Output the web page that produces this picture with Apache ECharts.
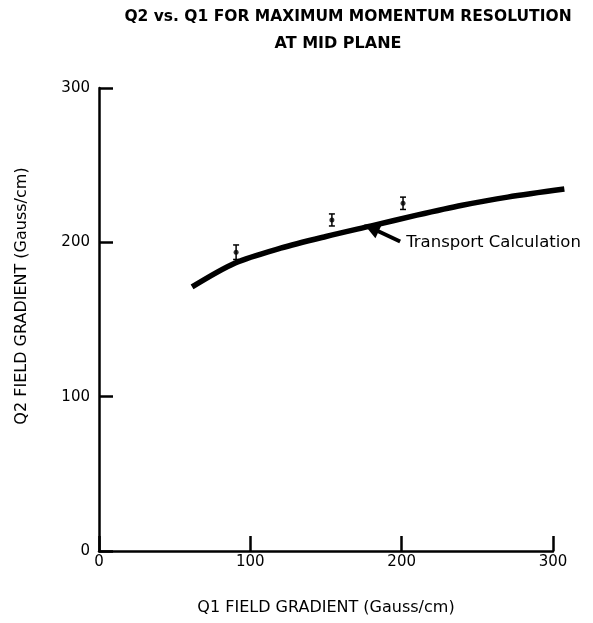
<!DOCTYPE html>
<html>
<head>
<meta charset="utf-8">
<script src="https://cdn.jsdelivr.net/npm/echarts@6/dist/echarts.min.js"></script>
<style>
html,body{margin:0;padding:0;background:#fff;}
#chart{width:593px;height:623px;}
</style>
</head>
<body>
<div id="chart"></div>
<script>
// Transport calculation curve (Q1, Q2)
var curveX = [61.5, 90, 120, 150, 180, 210, 240, 270, 307.5];
var curveY = [171.1, 186.6, 196.2, 203.8, 210.7, 217.6, 224.0, 229.3, 234.5];
// Measured points with error
var pointX = [90.6, 153.9, 200.9];
var pointY = [193.6, 214.5, 225.3];
var pointErr = [4.7, 3.9, 4.0];
// Axis ticks
var xTicks = [0, 100, 200, 300];
var yTicks = [0, 100, 200, 300];
// Annotation
var annotText = 'Transport Calculation';
var arrowFrom = [199, 200.5];
var arrowTo = [180, 209.3];

var FONT = 'DejaVu Sans';
var chart = echarts.init(document.getElementById('chart'), null, {renderer: 'canvas'});

var curveData = curveX.map(function (x, i) { return [x, curveY[i]]; });
var pointData = pointX.map(function (x, i) { return [x, pointY[i]]; });
var errData = pointX.map(function (x, i) { return [x, pointY[i] - pointErr[i], pointY[i] + pointErr[i]]; });

var option = {
  animation: false,
  backgroundColor: '#fff',
  grid: {left: 99, right: 40, top: 88, bottom: 72},
  graphic: [
    {type: 'text', x: 348, y: 17, style: {text: 'Q2 vs. Q1 FOR MAXIMUM MOMENTUM RESOLUTION', font: 'bold 15.5px "' + FONT + '"', fill: '#000', textAlign: 'center', textVerticalAlign: 'middle'}},
    {type: 'text', x: 338, y: 44, style: {text: 'AT MID PLANE', font: 'bold 16px "' + FONT + '"', fill: '#000', textAlign: 'center', textVerticalAlign: 'middle'}},
    {type: 'text', x: 22, y: 296, rotation: Math.PI / 2, style: {text: 'Q2 FIELD GRADIENT (Gauss/cm)', font: '16px "' + FONT + '"', fill: '#000', textAlign: 'center', textVerticalAlign: 'middle'}}
  ],
  xAxis: {
    type: 'value', min: xTicks[0], max: xTicks[xTicks.length - 1], interval: 100,
    name: 'Q1 FIELD GRADIENT (Gauss/cm)', nameLocation: 'middle', nameGap: 49,
    nameTextStyle: {fontFamily: FONT, fontSize: 16, color: '#000'},
    axisLine: {show: true, lineStyle: {color: '#000', width: 2.5}},
    axisTick: {show: true, inside: true, length: 15, lineStyle: {color: '#000', width: 2.5}},
    axisLabel: {color: '#000', fontFamily: FONT, fontSize: 15, margin: 4},
    splitLine: {show: false}
  },
  yAxis: {
    type: 'value', min: yTicks[0], max: yTicks[yTicks.length - 1], interval: 100,
    axisLine: {show: true, lineStyle: {color: '#000', width: 2.5}},
    axisTick: {show: true, inside: true, length: 14, lineStyle: {color: '#000', width: 2.5}},
    axisLabel: {color: '#000', fontFamily: FONT, fontSize: 15, margin: 9},
    splitLine: {show: false}
  },
  series: [
    {
      type: 'custom', data: curveData, clip: false, silent: true,
      renderItem: function (params, api) {
        if (params.dataIndex !== 0) return null;
        var pts = curveData.map(function (d) { return api.coord(d); });
        return {type: 'polyline', shape: {points: pts, smooth: 0.3},
          style: {stroke: '#000', lineWidth: 5.5, fill: null, lineCap: 'butt', lineJoin: 'round'}};
      }
    },
    {
      type: 'line', data: [], showSymbol: false,
      markLine: {
        silent: true, symbol: ['none', 'triangle'], symbolSize: [15, 16],
        lineStyle: {color: '#000', width: 4, type: 'solid'},
        label: {show: false},
        data: [[{coord: arrowFrom}, {coord: arrowTo}]]
      },
      markPoint: {
        silent: true, symbol: 'circle', symbolSize: 0,
        data: [{coord: arrowFrom}],
        label: {show: true, position: 'right', distance: 6, offset: [0, 1], formatter: annotText, color: '#000', fontFamily: FONT, fontSize: 16.5}
      }
    },
    {
      type: 'custom', data: errData, clip: false,
      renderItem: function (params, api) {
        var x = api.value(0);
        var lo = api.coord([x, api.value(1)]);
        var hi = api.coord([x, api.value(2)]);
        var w = 3;
        var st = {stroke: '#000', lineWidth: 1.5};
        return {type: 'group', children: [
          {type: 'line', shape: {x1: lo[0], y1: lo[1], x2: hi[0], y2: hi[1]}, style: st},
          {type: 'line', shape: {x1: lo[0] - w, y1: lo[1], x2: lo[0] + w, y2: lo[1]}, style: st},
          {type: 'line', shape: {x1: hi[0] - w, y1: hi[1], x2: hi[0] + w, y2: hi[1]}, style: st}
        ]};
      }
    },
    {
      type: 'scatter', data: pointData, symbol: 'circle', symbolSize: 5,
      itemStyle: {color: '#000'}
    }
  ]
};
chart.setOption(option);
</script>
</body>
</html>
